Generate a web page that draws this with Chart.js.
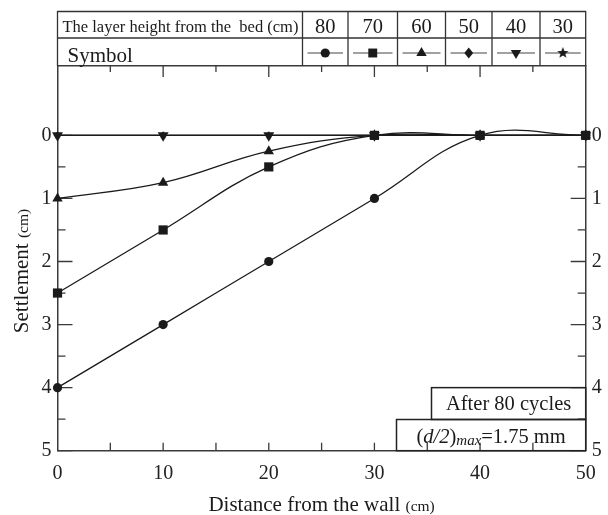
<!DOCTYPE html>
<html><head><meta charset="utf-8">
<script src="https://cdn.jsdelivr.net/npm/chart.js@4.4.0/dist/chart.umd.min.js"></script>
<style>html,body{margin:0;padding:0;background:#fff}#wrap{width:608px;height:515px;position:relative}</style>
</head><body><div id="wrap"><canvas id="c"></canvas></div>
<script>
// ---------------- data ----------------
const distances = [0, 10, 20, 30, 40, 50];
const layerHeights = ['80', '70', '60', '50', '40', '30'];
const settle80 = [4, 3, 2, 1, 0, 0];
const settle70 = [2.5, 1.5, 0.5, 0, 0, 0];
const settle60 = [1, 0.75, 0.25, 0, 0, 0];
const settle50 = [0, 0, 0, 0, 0, 0];
const settle40 = [0, 0, 0, 0, 0, 0];
const settle30 = [0, 0, 0, 0, 0, 0];
const xTickValues = [0, 10, 20, 30, 40, 50];
const yTickValues = [0, 1, 2, 3, 4, 5];
const headerText = 'The layer height from the  bed (cm)';
const symbolText = 'Symbol';
const noteCycles = 'After 80 cycles';
const xTitle = 'Distance from the wall';
const yTitle = 'Settlement';
const unitText = '(cm)';

// ---------------- styling ----------------
const SERIF = "'Liberation Serif', 'Times New Roman', serif";
const INK = '#1a1a1a';
const AXIS = '#3a3a3a';

function makeStar(r) {
  const s = Math.ceil(r * 2 + 2);
  const c = document.createElement('canvas');
  c.width = s; c.height = s;
  const g = c.getContext('2d');
  g.fillStyle = INK;
  g.beginPath();
  for (let i = 0; i < 10; i++) {
    const a = -Math.PI / 2 + i * Math.PI / 5;
    const rr = i % 2 ? r * 0.42 : r;
    g.lineTo(s / 2 + rr * Math.cos(a), s / 2 + rr * Math.sin(a));
  }
  g.closePath(); g.fill();
  return c;
}
const starPlot = makeStar(4);
const starLegend = makeStar(6);

const seriesDefs = [
  { label: layerHeights[0], values: settle80, style: 'circle', r: 4.6, lr: 4.6, rot: 0, order: 5 },
  { label: layerHeights[1], values: settle70, style: 'rect', r: 6.5, lr: 6.3, rot: 0, order: 0 },
  { label: layerHeights[2], values: settle60, style: 'triangle', r: 6, lr: 6, rot: 0, order: 2 },
  { label: layerHeights[3], values: settle50, style: 'rectRot', r: 3.8, lr: 5.5, rot: 0, order: 4 },
  { label: layerHeights[4], values: settle40, style: 'triangle', r: 6.3, lr: 6, rot: 180, order: 1 },
  { label: layerHeights[5], values: settle30, style: starPlot, legendStyle: starLegend, r: 4, lr: 6, rot: 0, order: 3 },
];

const datasets = seriesDefs.map(s => ({
  label: s.label,
  data: distances.map((x, i) => ({ x: x, y: s.values[i] })),
  xAxisID: 'x', yAxisID: 'y',
  borderColor: INK, borderWidth: 1.3, tension: 0.4, fill: false,
  pointStyle: s.style, pointRadius: s.r, pointRotation: s.rot,
  pointBackgroundColor: INK, pointBorderColor: INK, pointBorderWidth: 0,
  pointHoverRadius: s.r, clip: false, order: s.order
}));

// ---------------- helpers ----------------
function drawMarker(ctx, style, rot, x, y, r) {
  ctx.save();
  ctx.fillStyle = INK;
  ctx.beginPath();
  if (style === 'circle') {
    ctx.arc(x, y, r, 0, Math.PI * 2);
  } else if (style === 'rect') {
    const h = Math.SQRT1_2 * r;
    ctx.rect(x - h, y - h, 2 * h, 2 * h);
  } else if (style === 'rectRot') {
    ctx.moveTo(x, y - r); ctx.lineTo(x + r * 0.8, y); ctx.lineTo(x, y + r); ctx.lineTo(x - r * 0.8, y);
  } else if (style === 'triangle') {
    let a = rot * Math.PI / 180;
    for (let k = 0; k < 3; k++) {
      ctx.lineTo(x + Math.sin(a) * r, y - Math.cos(a) * r);
      a += 2 * Math.PI / 3;
    }
  } else {
    ctx.drawImage(style, x - style.width / 2, y - style.height / 2);
    ctx.restore();
    return;
  }
  ctx.closePath(); ctx.fill();
  ctx.restore();
}

function drawRuns(ctx, runs, startX, baseY) {
  let x = startX;
  runs.forEach(r => {
    ctx.font = r.font;
    ctx.fillText(r.text, x, baseY + (r.dy || 0));
    x += ctx.measureText(r.text).width;
  });
}
function runsWidth(ctx, runs) {
  let w = 0;
  runs.forEach(r => { ctx.font = r.font; w += ctx.measureText(r.text).width; });
  return w;
}

// ---------------- plugins ----------------
const tickMarks = {
  id: 'tickMarks',
  beforeDatasetsDraw(chart) {
    const ctx = chart.ctx, ca = chart.chartArea;
    const sx = chart.scales.x, sy = chart.scales.y;
    ctx.save();
    ctx.strokeStyle = AXIS; ctx.lineWidth = 1.3;
    ctx.beginPath();
    for (let v = 0; v <= 5.001; v += 0.5) {
      const py = sy.getPixelForValue(v);
      const len = Math.abs(v - Math.round(v)) < 1e-6 ? 15 : 8;
      ctx.moveTo(ca.left, py); ctx.lineTo(ca.left + len, py);
      ctx.moveTo(ca.right, py); ctx.lineTo(ca.right - len, py);
    }
    for (let v = 5; v <= 45.001; v += 5) {
      const px = sx.getPixelForValue(v);
      ctx.moveTo(px, ca.bottom); ctx.lineTo(px, ca.bottom - 8);
      const lt = (v % 10 === 0) ? 11 : 6;
      ctx.moveTo(px, ca.top); ctx.lineTo(px, ca.top + lt);
    }
    ctx.stroke();
    ctx.restore();
  }
};

const decorations = {
  id: 'decorations',
  afterDraw(chart) {
    const ctx = chart.ctx, ca = chart.chartArea;
    ctx.save();
    ctx.fillStyle = '#1a1a1a';
    ctx.textBaseline = 'alphabetic';
    ctx.textAlign = 'left';

    // ---- legend table ----
    const tTop = 11.5, tMid = 38, tBot = ca.top;
    const tLeft = ca.left, tRight = ca.right;
    const cols = [302.5, 348, 397.5, 445.5, 492, 540, tRight];
    ctx.strokeStyle = '#333'; ctx.lineWidth = 1.3;
    ctx.beginPath();
    ctx.moveTo(tLeft, tBot); ctx.lineTo(tLeft, tTop); ctx.lineTo(tRight, tTop); ctx.lineTo(tRight, tBot);
    ctx.moveTo(tLeft, tMid); ctx.lineTo(tRight, tMid);
    for (let i = 0; i < cols.length - 1; i++) { ctx.moveTo(cols[i], tTop); ctx.lineTo(cols[i], tBot); }
    ctx.stroke();

    ctx.font = '16.5px ' + SERIF;
    ctx.fillText(headerText, tLeft + 5, 32, cols[0] - tLeft - 9);
    ctx.font = '21px ' + SERIF;
    ctx.fillText(symbolText, tLeft + 10, 62);

    ctx.textAlign = 'center';
    ctx.font = '20.5px ' + SERIF;
    const symY = 53;
    for (let i = 0; i < seriesDefs.length; i++) {
      const cx = (cols[i] + cols[i + 1]) / 2;
      ctx.fillText(seriesDefs[i].label, cx, 33);
      ctx.strokeStyle = '#444'; ctx.lineWidth = 1;
      ctx.beginPath();
      ctx.moveTo(cols[i] + 5, symY); ctx.lineTo(cols[i + 1] - 5, symY);
      ctx.stroke();
      const d = seriesDefs[i];
      drawMarker(ctx, d.legendStyle || d.style, d.rot, cx, symY, d.lr);
    }

    // ---- annotation boxes ----
    ctx.strokeStyle = '#222'; ctx.lineWidth = 1.5;
    const b1 = { l: 431.5, t: chart.scales.y.getPixelForValue(4), r: ca.right, b: 419.5 };
    const b2 = { l: 396.5, t: 419.5, r: ca.right, b: ca.bottom };
    ctx.strokeRect(b1.l, b1.t, b1.r - b1.l, b1.b - b1.t);
    ctx.strokeRect(b2.l, b2.t, b2.r - b2.l, b2.b - b2.t);
    ctx.textAlign = 'center';
    ctx.font = '20.5px ' + SERIF;
    ctx.fillText(noteCycles, (b1.l + b1.r) / 2, 410);
    ctx.textAlign = 'left';
    const runs2 = [
      { text: '(', font: '20.5px ' + SERIF },
      { text: 'd/2', font: 'italic 20.5px ' + SERIF },
      { text: ')', font: '20.5px ' + SERIF },
      { text: 'max', font: 'italic 15px ' + SERIF, dy: 2 },
      { text: '=1.75 mm', font: '20.5px ' + SERIF },
    ];
    const w2 = runsWidth(ctx, runs2);
    drawRuns(ctx, runs2, (b2.l + b2.r) / 2 - w2 / 2, 443);

    // ---- axis titles ----
    const xRuns = [
      { text: xTitle + ' ', font: '21px ' + SERIF },
      { text: unitText, font: '15.5px ' + SERIF },
    ];
    const wx = runsWidth(ctx, xRuns);
    drawRuns(ctx, xRuns, (ca.left + ca.right) / 2 - wx / 2, 511);

    const yRuns = [
      { text: yTitle + ' ', font: '21px ' + SERIF },
      { text: unitText, font: '15.5px ' + SERIF },
    ];
    const wy = runsWidth(ctx, yRuns);
    ctx.translate(28, 271);
    ctx.rotate(-Math.PI / 2);
    drawRuns(ctx, yRuns, -wy / 2, 0);
    ctx.restore();
  }
};

// ---------------- chart ----------------
const tickFont = { family: SERIF, size: 20 };
const borderOpts = { display: true, color: AXIS, width: 1.5 };

new Chart(document.getElementById('c'), {
  type: 'line',
  data: { datasets: datasets },
  options: {
    responsive: true, maintainAspectRatio: false, animation: false,
    layout: { padding: 0 },
    plugins: { legend: { display: false }, tooltip: { enabled: false }, title: { display: false } },
    events: [],
    scales: {
      x: {
        type: 'linear', position: 'bottom', min: 0, max: 50,
        afterBuildTicks(s) { s.ticks = xTickValues.map(v => ({ value: v })); },
        afterFit(s) { s.height = 64.3; },
        grid: { display: false, drawTicks: false }, border: borderOpts,
        ticks: { font: tickFont, color: '#222', padding: 11, maxRotation: 0, autoSkip: false }
      },
      xTop: {
        type: 'linear', position: 'top', min: 0, max: 50,
        afterFit(s) { s.height = 66; },
        grid: { display: false, drawTicks: false }, border: borderOpts,
        ticks: { display: false }
      },
      y: {
        type: 'linear', position: 'left', reverse: true, min: -1.1, max: 5,
        afterBuildTicks(s) { s.ticks = yTickValues.map(v => ({ value: v })); },
        afterFit(s) { s.width = 57.5; },
        grid: { display: false, drawTicks: false }, border: borderOpts,
        ticks: { font: tickFont, color: '#222', padding: 6, autoSkip: false }
      },
      y2: {
        type: 'linear', position: 'right', reverse: true, min: -1.1, max: 5,
        afterBuildTicks(s) { s.ticks = yTickValues.map(v => ({ value: v })); },
        afterFit(s) { s.width = 22.3; },
        grid: { display: false, drawTicks: false }, border: borderOpts,
        ticks: { font: tickFont, color: '#222', padding: 6, autoSkip: false }
      }
    }
  },
  plugins: [tickMarks, decorations]
});
</script>
</body></html>
